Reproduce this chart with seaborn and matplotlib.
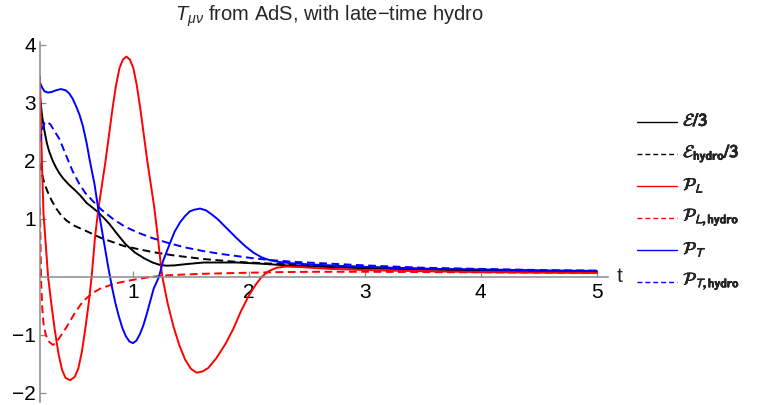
import numpy as np
import pandas as pd
import matplotlib
matplotlib.use("Agg")
import matplotlib.pyplot as plt
import matplotlib.patheffects as pe
import seaborn as sns
from matplotlib.lines import Line2D
from matplotlib.ticker import MultipleLocator, FixedLocator
from matplotlib.transforms import blended_transform_factory

# ---------------- data ----------------
t_E = [0.20, 0.22, 0.24, 0.26, 0.28, 0.31, 0.34, 0.37, 0.40, 0.45, 0.50, 0.55, 0.60, 0.65,
       0.70, 0.75, 0.80, 0.87, 0.94, 1.02, 1.10, 1.17, 1.23, 1.29, 1.36, 1.45, 1.61, 1.90,
       2.10, 2.33, 2.60, 3.00, 3.50, 4.00, 4.50, 5.00]
E3 = [3.10, 2.75, 2.50, 2.30, 2.16, 2.00, 1.88, 1.78, 1.70, 1.59, 1.50, 1.40, 1.28, 1.20,
      1.12, 1.02, 0.91, 0.73, 0.56, 0.42, 0.32, 0.25, 0.21, 0.195, 0.20, 0.22, 0.25, 0.25,
      0.23, 0.20, 0.18, 0.15, 0.13, 0.11, 0.10, 0.09]

t_Eh = [0.20, 0.22, 0.24, 0.27, 0.30, 0.34, 0.38, 0.43, 0.50, 0.59, 0.73, 0.93, 1.17, 1.36,
        1.61, 1.90, 2.20, 2.60, 3.00, 3.50, 4.00, 4.50, 5.00]
E3_hydro = [1.97, 1.75, 1.60, 1.45, 1.32, 1.18, 1.07, 0.97, 0.88, 0.80, 0.67, 0.53, 0.43, 0.37,
            0.31, 0.26, 0.23, 0.20, 0.17, 0.14, 0.12, 0.105, 0.095]

t_PL = [0.20, 0.215, 0.23, 0.25, 0.27, 0.30, 0.33, 0.36, 0.39, 0.42, 0.46, 0.50, 0.53, 0.56,
        0.59, 0.62, 0.645, 0.675, 0.705, 0.735, 0.765, 0.795, 0.825, 0.855, 0.885, 0.915,
        0.945, 0.975, 1.005, 1.035, 1.065, 1.095, 1.125, 1.155, 1.185, 1.215, 1.245, 1.255,
        1.30, 1.35, 1.40, 1.45, 1.50, 1.55, 1.60, 1.65, 1.72, 1.80, 1.87, 1.93, 2.00, 2.06,
        2.11, 2.17, 2.24, 2.32, 2.45, 2.70, 3.00, 3.50, 4.00, 4.50, 5.00]
PL = [3.45, 2.10, 1.10, 0.55, 0.00, -0.50, -0.95, -1.33, -1.60, -1.74, -1.78, -1.72, -1.58,
      -1.30, -0.90, -0.45, 0.00, 0.70, 1.20, 1.60, 2.00, 2.45, 2.90, 3.30, 3.60, 3.75,
      3.80, 3.75, 3.60, 3.30, 2.90, 2.45, 2.00, 1.60, 1.20, 0.70, 0.15, 0.00,
      -0.45, -0.85, -1.17, -1.42, -1.58, -1.65, -1.63, -1.57, -1.40, -1.15, -0.88, -0.60,
      -0.32, -0.13, 0.00, 0.10, 0.16, 0.18, 0.17, 0.14, 0.12, 0.10, 0.085, 0.075, 0.07]

t_PLh = [0.20, 0.205, 0.21, 0.22, 0.23, 0.25, 0.28, 0.31, 0.33, 0.36, 0.40, 0.43, 0.50, 0.57,
         0.65, 0.72, 0.85, 1.00, 1.15, 1.30, 1.60, 1.90, 2.30, 2.60, 3.00, 3.50, 4.00, 4.50, 5.00]
PL_hydro = [1.20, 0.50, -0.10, -0.55, -0.80, -1.00, -1.12, -1.17, -1.15, -1.07, -0.95, -0.86,
            -0.62, -0.42, -0.28, -0.20, -0.11, -0.05, 0.00, 0.03, 0.055, 0.07, 0.085, 0.09,
            0.09, 0.085, 0.08, 0.075, 0.07]

t_PT = [0.20, 0.22, 0.24, 0.27, 0.30, 0.34, 0.38, 0.42, 0.45, 0.48, 0.51, 0.54, 0.57, 0.60,
        0.63, 0.67, 0.70, 0.73, 0.76, 0.79, 0.82, 0.85, 0.88, 0.91, 0.94, 0.97, 1.00, 1.03,
        1.06, 1.09, 1.12, 1.15, 1.18, 1.225, 1.26, 1.32, 1.36, 1.41, 1.45, 1.49, 1.53, 1.58,
        1.63, 1.68, 1.73, 1.79, 1.85, 1.90, 1.97, 2.04, 2.11, 2.18, 2.26, 2.35, 2.50, 2.80,
        3.20, 3.60, 4.00, 4.50, 5.00]
PT = [3.35, 3.26, 3.20, 3.18, 3.19, 3.22, 3.24, 3.22, 3.17, 3.08, 2.95, 2.80, 2.60, 2.33,
      2.00, 1.60, 1.20, 0.85, 0.50, 0.15, -0.17, -0.45, -0.68, -0.88, -1.02, -1.11, -1.14, -1.10,
      -0.99, -0.84, -0.64, -0.42, -0.20, 0.00, 0.27, 0.58, 0.78, 0.95, 1.05, 1.13, 1.16, 1.18,
      1.15, 1.08, 1.00, 0.88, 0.76, 0.66, 0.53, 0.42, 0.34, 0.29, 0.26, 0.24, 0.22, 0.19,
      0.16, 0.14, 0.13, 0.115, 0.105]

t_PTh = [0.20, 0.22, 0.24, 0.26, 0.29, 0.33, 0.37, 0.42, 0.48, 0.54, 0.59, 0.66, 0.73, 0.83,
         0.93, 1.05, 1.17, 1.30, 1.45, 1.60, 1.75, 1.90, 2.05, 2.20, 2.40, 2.60, 3.00, 3.50,
         4.00, 4.50, 5.00]
PT_hydro = [2.33, 2.55, 2.66, 2.68, 2.63, 2.50, 2.37, 2.12, 1.83, 1.60, 1.45, 1.30, 1.16, 1.00,
            0.87, 0.76, 0.67, 0.59, 0.51, 0.45, 0.40, 0.36, 0.32, 0.29, 0.26, 0.24, 0.20, 0.16,
            0.14, 0.12, 0.11]

labels = [r'$\mathcal{E}\mathbf{/3}$',
          r'$\mathcal{E}_{\mathbf{hydro}}\mathbf{/3}$',
          r'$\mathcal{P}_{L}$',
          r'$\mathcal{P}_{L\mathbf{,hydro}}$',
          r'$\mathcal{P}_{T}$',
          r'$\mathcal{P}_{T\mathbf{,hydro}}$']
x_ticks = [1, 2, 3, 4, 5]
y_ticks = [-2, -1, 1, 2, 3, 4]
title = r'$T_{\mu\nu}$ from AdS, with late$-$time hydro'

series = [(t_E, E3, 'black', '-'),
          (t_Eh, E3_hydro, 'black', '--'),
          (t_PL, PL, '#ff0000', '-'),
          (t_PLh, PL_hydro, '#ff0000', '--'),
          (t_PT, PT, '#0000ff', '-'),
          (t_PTh, PT_hydro, '#0000ff', '--')]

# ---------------- style ----------------
sns.set_style("white")
plt.rcParams['font.family'] = ['Liberation Sans', 'DejaVu Sans']
plt.rcParams['mathtext.fontset'] = 'custom'
plt.rcParams['mathtext.rm'] = 'Liberation Sans'
plt.rcParams['mathtext.it'] = 'Liberation Sans:italic'
plt.rcParams['mathtext.bf'] = 'Liberation Sans:bold'

W, H = 757, 405
fig = plt.figure(figsize=(W / 100, H / 100), dpi=100)
x0, x1 = 40, 608.4
ylo, yhi = -2.15, 4.05
ypx0 = 277 + 2.15 * 58
ypx1 = 277 - 4.05 * 58
ax = fig.add_axes([x0 / W, 1 - ypx0 / H, (x1 - x0) / W, (ypx0 - ypx1) / H])
ax.set_facecolor('none')

dash = (0, (4.0, 2.3))
for (tt, vv, col, ls) in series:
    df = pd.DataFrame({'t': tt, 'v': vv})
    sns.lineplot(data=df, x='t', y='v', ax=ax, color=col, linewidth=1.4,
                 linestyle=(dash if ls == '--' else '-'), estimator=None, sort=False)

ax.set_xlim(0.2, 5.1)
ax.set_ylim(ylo, yhi)
ax.set_xlabel('')
ax.set_ylabel('')

axcol = '#8a8a8a'
for s in ['top', 'right']:
    ax.spines[s].set_visible(False)
ax.spines['bottom'].set_position(('data', 0))
ax.spines['left'].set_position(('data', 0.2))
for s in ['bottom', 'left']:
    ax.spines[s].set_color(axcol)
    ax.spines[s].set_linewidth(1.1)

ax.xaxis.set_major_locator(FixedLocator(x_ticks))
ax.yaxis.set_major_locator(FixedLocator(y_ticks))
ax.xaxis.set_minor_locator(MultipleLocator(0.2))
ax.yaxis.set_minor_locator(MultipleLocator(0.2))
ax.set_xticklabels([str(v) for v in x_ticks])
ax.set_yticklabels([('\u2212' + str(-v)) if v < 0 else str(v) for v in y_ticks])
ax.tick_params(axis='both', which='both', direction='in', color=axcol, labelsize=15,
               labelcolor='black')
ax.tick_params(axis='both', which='major', length=4.2, width=0.9)
ax.tick_params(axis='both', which='minor', length=2.4, width=0.7)
ax.tick_params(axis='x', which='major', pad=4)
ax.tick_params(axis='y', which='major', pad=3)
ax.tick_params(bottom=True, left=True)

ax.text(1.015, 0, 't', transform=blended_transform_factory(ax.transAxes, ax.transData),
        fontsize=15, va='center', ha='left')

fig.text(329 / W, 1 - 16 / H, title, fontsize=14.5, ha='center', va='center')

# legend (manual, figure pixels)
bold = [pe.withStroke(linewidth=0.4, foreground='black')]
for i, (lab, (tt, vv, col, ls)) in enumerate(zip(labels, series)):
    yy = 1 - (121.5 + 32 * i) / H
    fig.add_artist(Line2D([637 / W, 677 / W], [yy, yy], transform=fig.transFigure,
                          color=col, lw=1.0, linestyle=((0, (3.5, 2.2)) if ls == '--' else '-')))
    fig.text(683 / W, yy, lab, fontsize=13, va='center', ha='left',
             math_fontfamily='stixsans', path_effects=bold)

fig.savefig('out.png', dpi=100)
